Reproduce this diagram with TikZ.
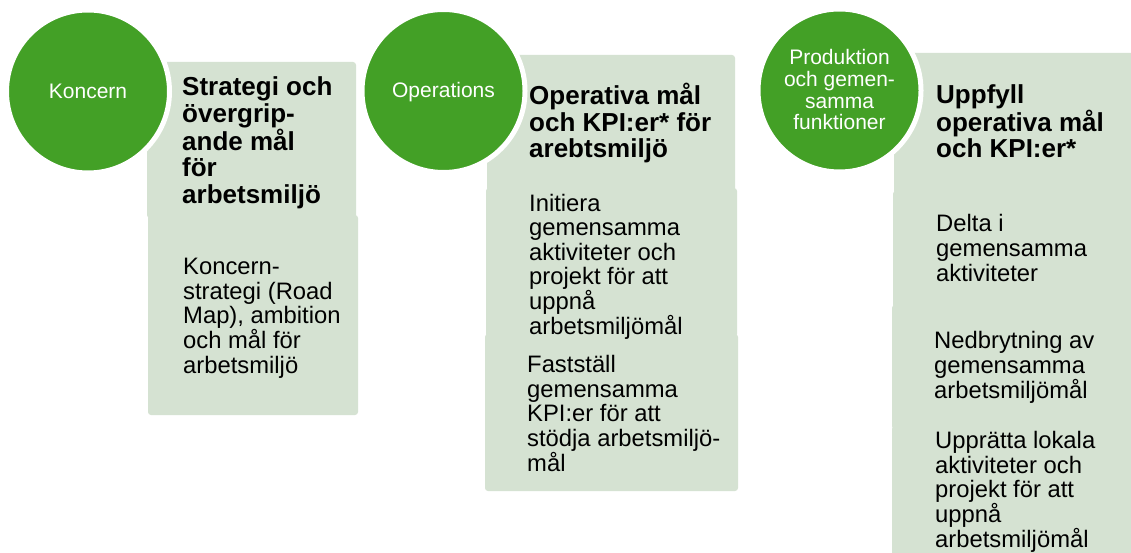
\documentclass[tikz,border=0pt]{standalone}
\usepackage{fontspec}
\setmainfont{Liberation Sans}
\definecolor{cgreen}{RGB}{67,160,38}
\definecolor{cbox}{RGB}{213,226,210}
\begin{document}
\begin{tikzpicture}[x=1pt,y=-1pt,
 box/.style={fill=cbox, rounded corners=3pt},
 circ/.style={circle, fill=cgreen, draw=white, line width=5pt, minimum size=163pt, inner sep=0pt},
 head/.style={anchor=base west, inner sep=0pt, align=left, font=\fontsize{26}{26.7}\selectfont\bfseries},
 body/.style={anchor=base west, inner sep=0pt, align=left, font=\fontsize{23.8}{24.6}\selectfont},
 ctext/.style={anchor=base, inner sep=0pt, align=center, text=white, font=\fontsize{21}{21.7}\selectfont}]
\useasboundingbox[fill=white] (0,0) rectangle (1131,553);
% (text nodes are placed by the baseline of their last line)

% column 1
\path[box] (147,62) rectangle (356,218);
\path[box] (148,215) rectangle (358,415);
\node[circ] (c1) at (88,91.5) {};
\node[ctext] (c1t) at (88,99) {Koncern};
\node[head] (h1) at (182,203.5) {Strategi och\\övergrip-\\ande mål\\för\\arbetsmiljö};
\node[body] (b1) at (183,373) {Koncern-\\strategi (Road\\Map), ambition\\och mål för\\arbetsmiljö};

% column 2
\path[box] (487,55) rectangle (735,191);
\path[box] (486,188) rectangle (737,337);
\path[box] (485,334) rectangle (738,491);
\node[circ] (c2) at (443.5,91) {};
\node[ctext] (c2t) at (443.5,98) {Operations};
\node[head] (h2) at (529,158) {Operativa mål\\och KPI:er* för\\arebtsmiljö};
\node[body] (b2a) at (529,334) {Initiera\\gemensamma\\aktiviteter och\\projekt för att\\uppnå\\arbetsmiljömål};
\node[body] (b2b) at (527,471) {Fastställ\\gemensamma\\KPI:er för att\\stödja arbetsmiljö-\\mål};

% column 3
\path[box] (894,53) rectangle (1145,194);
\path[box] (893,191) rectangle (1145,308);
\path[box] (892,305) rectangle (1145,429);
\path[box] (892,426) rectangle (1145,565);
\node[circ] (c3) at (839.5,90.5) {};
\node[ctext] (c3t) at (839.5,130) {Produktion\\och gemen-\\samma\\funktioner};
\node[head] (h3) at (936,158) {Uppfyll\\operativa mål\\och KPI:er*};
\node[body] (b3a) at (936,281) {Delta i\\gemensamma\\aktiviteter};
\node[body] (b3b) at (934,398) {Nedbrytning av\\gemensamma\\arbetsmiljömål};
\node[body] (b3c) at (935,547) {Upprätta lokala\\aktiviteter och\\projekt för att\\uppnå\\arbetsmiljömål};
\end{tikzpicture}
\end{document}
